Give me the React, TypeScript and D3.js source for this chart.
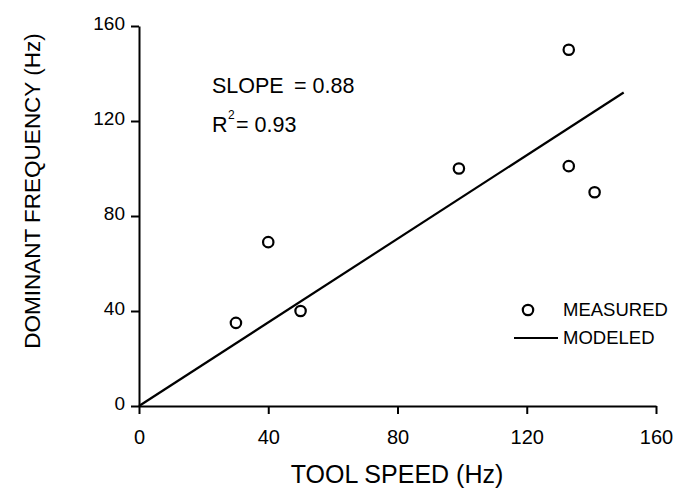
import React, { useEffect, useRef } from 'react'
import * as d3 from 'd3'

// measured points (tool speed Hz, dominant frequency Hz)
const toolSpeed = [30, 50, 40, 99, 133, 133, 141]
const domFreq = [35, 40, 69, 100, 150, 101, 90]

// modeled line: slope 0.88 through the origin
const modelX = [0, 150]
const modelY = [0, 132]

const xTicks = [0, 40, 80, 120, 160]
const yTicks = [0, 40, 80, 120, 160]

const FONT = 'Liberation Sans, Arial, Helvetica, sans-serif'

const App = () => {
  const ref = useRef<SVGSVGElement>(null)

  useEffect(() => {
    const svg = d3.select(ref.current)
    svg.selectAll('*').remove()

    const x = d3.scaleLinear().domain([0, 160]).range([139, 656])
    const y = d3.scaleLinear().domain([0, 160]).range([406, 26])

    const xAxis = svg
      .append('g')
      .attr('transform', `translate(0,${y(0)})`)
      .call(d3.axisBottom(x).tickValues(xTicks).tickSize(8).tickPadding(16).tickSizeOuter(0))
    const yAxis = svg
      .append('g')
      .attr('transform', `translate(${x(0)},0)`)
      .call(d3.axisLeft(y).tickValues(yTicks).tickSize(8).tickPadding(6).tickSizeOuter(0))

    for (const ax of [xAxis, yAxis]) {
      ax.select('.domain').attr('stroke', '#000').attr('stroke-width', 2)
      ax.selectAll('.tick line').attr('stroke', '#000').attr('stroke-width', 2)
      ax.selectAll('.tick text')
        .attr('fill', '#000')
        .attr('font-family', FONT)
    }
    xAxis.selectAll('.tick text').attr('font-size', 20)
    yAxis.selectAll('.tick text').attr('font-size', 19).attr('dy', '0.2em')

    // modeled line
    const line = d3
      .line<number>()
      .x((d) => x(d))
      .y((_, i) => y(modelY[i]))
    svg
      .append('path')
      .datum(modelX)
      .attr('d', line)
      .attr('fill', 'none')
      .attr('stroke', '#000')
      .attr('stroke-width', 2.2)

    // measured points
    svg
      .selectAll('.pt')
      .data(toolSpeed)
      .enter()
      .append('circle')
      .attr('class', 'pt')
      .attr('cx', (d) => x(d))
      .attr('cy', (_, i) => y(domFreq[i]))
      .attr('r', 5.2)
      .attr('fill', 'none')
      .attr('stroke', '#000')
      .attr('stroke-width', 2.2)

    // axis titles
    svg
      .append('text')
      .attr('x', 397)
      .attr('y', 483)
      .attr('text-anchor', 'middle')
      .attr('font-family', FONT)
      .attr('font-size', 25)
      .text('TOOL SPEED (Hz)')
    svg
      .append('text')
      .attr('transform', `translate(40,191) rotate(-90)`)
      .attr('text-anchor', 'middle')
      .attr('font-family', FONT)
      .attr('font-size', 22.5)
      .text('DOMINANT FREQUENCY (Hz)')

    // annotations
    const ann = svg.append('g').attr('font-family', FONT).attr('font-size', 21.5)
    ann.append('text').attr('x', 212).attr('y', 93).text('SLOPE')
    ann.append('text').attr('x', 294).attr('y', 93).text('= 0.88')
    ann.append('text').attr('x', 212).attr('y', 132).text('R')
    ann.append('text').attr('x', 228).attr('y', 119).attr('font-size', 12).text('2')
    ann.append('text').attr('x', 236).attr('y', 132).text('= 0.93')

    // legend
    const leg = svg.append('g').attr('font-family', FONT).attr('font-size', 18.5)
    leg
      .append('circle')
      .attr('cx', 528)
      .attr('cy', 310)
      .attr('r', 5.2)
      .attr('fill', 'none')
      .attr('stroke', '#000')
      .attr('stroke-width', 2.2)
    leg.append('text').attr('x', 563).attr('y', 316).text('MEASURED')
    leg
      .append('line')
      .attr('x1', 514)
      .attr('x2', 558)
      .attr('y1', 338)
      .attr('y2', 338)
      .attr('stroke', '#000')
      .attr('stroke-width', 2)
    leg.append('text').attr('x', 563).attr('y', 344).text('MODELED')
  }, [])

  return (
    <svg
      ref={ref}
      width={673}
      height={489}
      style={{ position: 'absolute', left: 0, top: 0, background: '#fff' }}
    />
  )
}

export default App
